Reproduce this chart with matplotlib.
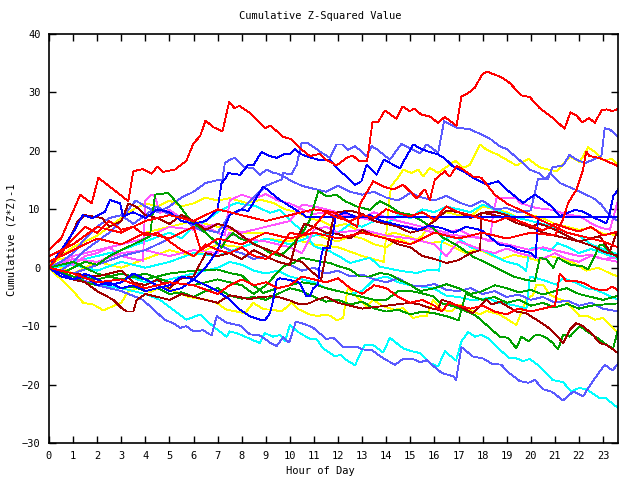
import matplotlib
matplotlib.use("Agg")
import matplotlib.pyplot as plt

# ---- data: (hour, cumulative value) pairs ----
red_top = [(0,3),(0.5,5),(1.3,12.5),(1.77,11),(2.05,15.4),(3.29,11.4),(3.5,16.5),(3.9,16.9),(4.26,16.1),(4.5,17.3),(4.74,16.4),(5.23,16.8),(5.7,18.3),(6.0,21.3),(6.27,22.5),(6.5,25.2),(6.8,24.1),(7.2,23.3),(7.48,28.4),(7.7,27.3),(7.9,27.7),(8.34,26.5),(8.96,23.9),(9.2,24.3),(9.72,22.4),(10.07,22.0),(10.4,20.5),(10.83,19.1),(11.24,19.5),(11.5,18.5),(11.94,17.5),(12.35,18.8),(12.6,19.2),(12.9,18.2),(13.2,18.2),(13.43,24.9),(13.66,24.9),(13.94,26.9),(14.43,25.5),(14.67,27.6),(14.98,26.8),(15.16,27.2),(15.46,26.2),(15.8,25.9),(16.15,24.8),(16.43,25.8),(16.92,24.3),(17.12,29.3),(17.4,29.9),(17.68,30.8),(17.95,32.9),(18.16,33.6),(18.78,32.6),(19.13,31.6),(19.6,29.5),(19.96,29.2),(20.37,27.3),(20.92,25.6),(21.4,23.8),(21.65,26.6),(21.9,26.0),(22.14,24.9),(22.42,25.6),(22.66,24.8),(22.93,26.9),(23.14,27.1),(23.39,26.8),(23.62,27.2)]

lb_bottom = [(0,0),(0.5,-1),(1,-1.5),(2,-3),(3,-4),(3.9,-5.5),(4.8,-8.9),(5.16,-9.5),(5.44,-10.3),(5.7,-10),(6,-10.9),(6.4,-10.7),(6.75,-11.6),(6.96,-8.3),(7.37,-9.4),(7.93,-9.9),(8.34,-11.4),(8.75,-11.6),(9.17,-12.8),(9.45,-13.4),(9.72,-11.9),(9.97,-12.8),(10.25,-9.2),(10.7,-9.8),(10.97,-10.3),(11.52,-12.2),(11.8,-12.0),(12.2,-13.5),(12.77,-13.5),(13.04,-14.0),(13.4,-14.1),(13.87,-15.5),(14.36,-16.6),(14.7,-15.6),(15.1,-15.6),(15.4,-16.2),(15.67,-15.8),(15.95,-16.8),(16.3,-18.0),(16.78,-18.6),(16.9,-19.2),(17.12,-13.6),(17.6,-15.2),(18.0,-15.5),(18.37,-16.4),(18.78,-16.6),(19.0,-17.7),(19.54,-19.4),(19.9,-19.7),(20.17,-19.2),(20.5,-20.8),(20.86,-21.2),(21.34,-22.7),(21.76,-21.2),(22.17,-22.0),(22.58,-19.4),(23.07,-16.6),(23.39,-17.6),(23.62,-16.4)]

cyan_bottom = [(0,0),(1,-1.5),(2,-3),(3,-3.5),(4,-4.5),(4.6,-5.5),(5.71,-8.9),(6.27,-8.0),(6.8,-10.0),(7.37,-11.8),(7.5,-10.9),(7.8,-11.2),(8.75,-12.9),(8.96,-11.2),(9.3,-11.8),(9.6,-11.5),(9.8,-12.6),(10.0,-9.8),(10.3,-10.9),(10.83,-12.2),(11.1,-12.2),(11.38,-13.8),(11.87,-15.2),(12.1,-14.9),(12.35,-15.8),(12.7,-16.7),(13.1,-13.2),(13.45,-13.2),(13.87,-14.5),(14.15,-12.0),(14.7,-13.8),(15.05,-14.3),(15.4,-14.6),(15.8,-16.3),(16.15,-16.9),(16.43,-14.3),(16.9,-15.9),(17.12,-12.6),(17.4,-11.0),(17.68,-11.8),(17.95,-11.5),(18.23,-12.1),(18.7,-14.0),(19.13,-15.5),(19.4,-15.5),(19.68,-16.0),(19.96,-15.6),(20.37,-16.9),(20.9,-19.2),(21.34,-19.6),(21.68,-21.2),(22.0,-20.6),(22.3,-20.8),(22.86,-22.3),(23.1,-22.3),(23.62,-24.0)]

yellow_low = [(0,0),(0.5,-2),(1,-4),(1.42,-6.0),(1.84,-6.3),(2.25,-7.3),(2.6,-6.7),(3.0,-6.0),(3.3,-4),(3.7,-3.5),(4.2,-4.2),(4.7,-3.2),(5.2,-4),(5.8,-5),(6.55,-5.5),(6.96,-6.0),(7.37,-7.2),(7.79,-7.5),(8.13,-7.8),(8.48,-6.0),(8.89,-7.1),(9.31,-7.2),(9.65,-7.5),(10.07,-6.0),(10.35,-7.1),(10.83,-8.0),(11.18,-8.3),(11.38,-8.0),(11.66,-8.2),(11.94,-9.0),(12.21,-8.6),(12.4,-3.5),(12.9,-5.5),(13.18,-6.6),(13.45,-5.5),(13.87,-6.6),(14.36,-7.2),(14.7,-6.9),(15.12,-8.6),(15.4,-8.3),(15.67,-8.3),(15.95,-5.5),(16.3,-7.2),(16.7,-7.5),(17.05,-6.3),(17.47,-7.2),(17.88,-8.0),(18.16,-7.4),(18.71,-8.0),(19.4,-9.8),(19.82,-5.5),(20.1,-4.6),(20.23,-2.9),(20.5,-2.9),(20.8,-4.6),(21.06,-5.2),(21.48,-5.8),(22.03,-8.3),(22.31,-8.2),(22.66,-8.9),(23.0,-8.6),(23.62,-11.2)]

yellow_hi = [(0,1),(1,2),(2,3),(3,4),(4,6),(5,7),(6,8),(7,7),(8,6),(9,6),(10,5),(11,4),(12,3.5),(13,2),(13.9,1),(14.1,10.5),(14.2,14),(14.43,15.1),(14.7,16.8),(15.05,16.2),(15.33,16.8),(15.53,15.6),(15.81,17.1),(16.15,16.2),(16.86,18.3),(17.2,17.1),(17.47,17.6),(17.89,21.1),(18.16,20.2),(18.65,19.3),(19.4,17.5),(19.9,18.6),(20.4,17.1),(21.07,16.5),(21.63,19.0),(22.03,18.1),(22.38,20.6),(22.73,19.6),(23.0,18.4),(23.37,18.6),(23.62,17.5)]

yellow_mid = [(0,0),(0.5,2),(1,3.5),(1.5,4.5),(2,5.5),(2.5,7),(3,8.5),(3.5,10),(4,11),(4.5,10.5),(5,11.5),(5.5,10.5),(6,11),(6.5,12),(7,11.5),(7.5,11.9),(8.2,11.1),(8.8,11.6),(9.3,11.1),(9.8,10),(10.3,9.5),(10.8,8.5),(11.3,8),(11.8,7),(12.3,7.5),(12.8,6.5),(13.3,6),(13.8,5.2),(14.3,6),(14.8,5.5),(15.3,4.8),(15.8,4.2),(16.3,4.5),(16.8,3.5),(17.3,2.5),(17.8,3.2),(18.3,2.2),(18.8,1.5),(19.3,2.2),(19.8,1.8),(20.3,1.2),(20.8,2),(21.3,1.5),(21.8,0.8),(22.3,-0.5),(22.8,0),(23.3,-1),(23.62,-1.5)]

yellow_4 = [(0,1),(1,-1),(2,1),(3,0),(4,1.5),(5,3),(6,2),(7,4),(8,3.5),(9,5),(10,4.5),(11,6),(11.5,5),(12,4.5),(12.5,5.5),(13,5),(13.5,4),(14,3.5),(14.5,5),(15,4),(15.5,5.5),(16,8.5),(16.5,9.5),(17,9),(17.5,8.8),(18,10.5),(18.5,10),(19,9.5),(19.5,8.5),(20,9),(20.5,8.5),(21,7.5),(21.5,7),(22,6.5),(22.5,6.8),(23,5.8),(23.62,5.6)]

red_2 = [(0,1),(1,3),(2,5),(3,4),(4,6),(5,5),(6,7),(6.3,3),(7,5),(8,4),(9,6),(10,5),(11,6),(12,5),(13,6),(14,5),(15,4),(16,6),(17,5),(18,6),(19,5),(20,6),(21,5.5),(21.33,8.2),(21.55,11.1),(21.9,13.4),(22.17,16.8),(22.3,19.9),(22.44,19.1),(22.85,18.8),(23.12,18.3),(23.62,17.4)]

red_3 = [(0,2),(1,4),(2,7),(3,6),(4,8),(5,9),(6,8),(7,10),(8,9),(9,8),(10,9),(11,10),(11.8,9.5),(12.4,8),(12.8,7),(12.9,10.8),(13.46,14.8),(13.87,13.9),(14.29,13.4),(14.7,14.2),(15.05,12.8),(15.26,11.9),(15.6,13.4),(15.81,11.6),(16.02,15.1),(16.43,16.5),(16.64,15.6),(16.92,17.4),(17.19,16.8),(17.6,15.6),(17.95,15.4),(18.5,12.5),(19,11),(19.5,10),(20,9),(20.5,8),(21,7),(21.5,6),(22,5.5),(22.5,5),(23,4.5),(23.62,3.5)]

red_4 = [(0,0),(1,5),(1.5,7),(2,6),(2.5,8),(3,6.5),(3.5,7),(4,5.5),(4.5,6),(5,4.5),(5.5,3),(6,2),(6.5,4),(7,3),(7.5,2.5),(8,3.5),(8.5,2),(9,1.5),(9.5,3),(10,6),(10.5,5.5),(11,7),(11.5,9.5),(12,8.5),(12.5,8),(13,9),(13.5,8.5),(14,10),(14.5,9.3),(15,8.8),(15.5,9.5),(16,8.2),(16.5,10.5),(17,9.5),(17.5,9),(18,8.3),(18.5,7.8),(19,8.6),(19.5,8),(20,7.2),(20.5,6.4),(21,7.5),(21.5,6.8),(22,6.2),(22.5,7),(23,5.5),(23.62,6.2)]

red_5 = [(0,0),(1,-1),(2,-2.5),(3,-2),(4,-3.5),(5,-2.5),(6,-3),(7,-4.5),(7.5,-3),(8,-2),(8.5,-3),(9,-2.5),(9.5,-3.5),(10,-3),(10.5,-1.5),(11,-2),(11.5,-2.5),(12,-1.8),(12.5,-3.5),(13,-4.5),(13.5,-3),(14,-3.5),(14.5,-5),(15,-6),(15.5,-5.5),(16,-6.5),(16.3,-7.5),(16.6,-6),(17,-6.5),(17.5,-7),(18,-6.5),(18.5,-7.5),(19,-8),(19.5,-7),(20,-7.5),(20.5,-7),(21,-6.5),(21.2,-1),(21.48,-2.3),(21.89,-2.3),(22.17,-2.6),(22.59,-3.5),(22.86,-3.8),(23.14,-3.8),(23.4,-3.2),(23.62,-4.0)]

darkred_1 = [(0,0),(0.5,-1),(1,-2),(1.5,-2.5),(2,-4),(2.67,-5.5),(3.01,-6.9),(3.22,-7.5),(3.5,-7.5),(3.64,-5.5),(4,-4.5),(4.5,-5),(5,-5.5),(5.5,-4.5),(6,-5),(6.5,-5.5),(7,-6),(7.5,-4.7),(8,-5.1),(8.3,-5.4),(8.75,-5),(9.2,-4.9),(9.5,-5),(10,-5.6),(10.4,-6.3),(10.8,-6.1),(11.1,-5.5),(11.5,-5),(12,-6),(13,-7),(14,-6.5),(15,-6),(15.4,-6.3),(15.81,-6.9),(16.15,-7.2),(16.3,-5.5),(16.7,-6),(17.2,-7),(17.6,-7.8),(18.16,-5.5),(18.37,-6.3),(18.71,-5.8),(19.4,-7.5),(19.82,-7.8),(20.23,-8.9),(20.65,-10.0),(21.06,-11.5),(21.34,-12.9),(21.62,-10.6),(21.89,-9.5),(22.17,-10.0),(22.58,-11.5),(22.86,-12.9),(23.14,-13.2),(23.62,-14.6)]

darkred_2 = [(0,1),(0.5,2),(1.2,8),(1.5,9),(2.2,8.5),(2.5,7),(3,8),(3.3,11),(3.6,10.5),(4,9),(4.5,8.5),(5,7.5),(5.5,9),(6,8),(6.5,6.5),(7,7.5),(7.5,7),(8,5.5),(8.5,4),(9,3.2),(9.5,2.5),(10,1.5),(10.5,1),(11,-1),(11.3,-2),(11.5,2.5),(11.8,8.5),(12,9.5),(12.5,9.8),(13,9.2),(13.5,8),(14,7.5),(14.5,7),(15,6),(15.5,6.5),(16,8),(16.5,9.8),(17,9.5),(17.5,8.5),(18,9.4),(18.5,9),(19,8.5),(19.5,7.5),(20,7),(20.5,6),(21,5.5),(21.5,5),(22,4.5),(22.5,5),(22.86,5.4),(23.28,2.8),(23.56,5.9),(23.62,5.5)]

darkred_3 = [(0,0),(1,-1),(2,-1.5),(3,-0.5),(3.5,-2.5),(4,-3),(4.5,-2),(5,-3.5),(5.5,-1.8),(6,-1.5),(6.5,2.5),(7,2),(7.5,2.5),(8,1.5),(8.5,3),(9,2),(9.5,1),(10,0.5),(10.3,5),(10.6,7.5),(11,7),(11.5,6),(12,5.8),(12.5,5),(13,6.5),(13.5,5.5),(14,5),(14.5,4),(15,3.5),(15.5,2),(16,1.5),(16.5,0.8),(17,1.3),(17.5,2.5),(17.9,3.0),(17.95,9.4),(18.5,9.6),(19,9.0),(19.5,8),(20,6.8),(20.3,7.6),(20.6,7.2),(21,6.5),(21.5,5.5),(22,4.5),(22.5,3.8),(23,2.8),(23.62,2)]

green_a = [(0,0),(0.5,-1),(1,0),(1.5,1),(2,0.5),(2.5,2),(3,3),(3.5,4),(4.19,5.4),(4.4,12.5),(4.95,12.8),(5.05,12.3),(5.44,10.5),(5.85,8.2),(6.27,6.8),(6.82,4.8),(7.16,3.4),(7.37,4.8),(7.65,5.9),(7.93,5.0),(8.3,4.5),(8.8,3.5),(9.2,2.5),(9.6,2),(10,3.5),(10.48,5.7),(10.83,8.2),(11.18,13.1),(11.53,12.2),(11.94,12.5),(12.28,11.4),(12.77,10.5),(13.32,9.9),(13.73,11.4),(14.15,10.5),(14.56,9.4),(14.98,9.1),(15.4,8.2),(15.95,6.8),(16.36,5.1),(16.92,3.9),(17.6,1.9),(18.16,0.8),(18.71,-0.3),(19.27,-1.5),(19.82,-2.1),(20.17,-2.3),(20.37,1.7),(20.65,1.4),(20.93,0),(21.13,1.7),(21.34,1.2),(21.69,0.5),(22.17,0.2),(22.38,-0.3),(22.59,1.4),(22.86,3.9),(23.0,3.9),(23.28,2.8),(23.62,1.7)]

green_b = [(0,0),(1,-1.5),(2,-2),(3,-1),(4,-2),(5,-1),(6,-0.5),(7,-0.3),(7.5,-0.9),(8.0,-1.3),(8.3,-2.5),(8.9,-4.3),(9.5,-3.5),(10,-3),(10.5,-2.5),(11,-2.8),(11.5,-3.5),(12,-4),(12.5,-4.5),(13,-5),(13.5,-5.5),(14,-5.5),(14.5,-4),(15,-4),(15.4,-4.3),(15.95,-4.9),(16.23,-6.0),(16.78,-6.6),(17.2,-7.2),(17.75,-8.3),(18.3,-10.3),(18.71,-11.8),(19.06,-12.0),(19.4,-13.8),(19.61,-11.8),(19.9,-12.6),(20.17,-11.6),(20.37,-11.5),(20.65,-12.0),(20.92,-12.9),(21.13,-14.0),(21.34,-11.5),(21.62,-11.8),(22.03,-10.0),(22.45,-11.2),(22.86,-12.3),(23.14,-13.2),(23.42,-13.8),(23.62,-10.6)]

green_c = [(0,0),(1,1),(2,-1),(3,-2),(4,-1),(5,-2.5),(6,-3),(7,-2),(8,-3),(8.5,-4.5),(9,-3),(9.72,0.2),(10.14,0.8),(10.48,1.7),(10.83,1.4),(11.24,1.1),(11.66,0.8),(12.07,0.2),(12.49,-0.3),(12.9,-1.5),(13.32,-1.5),(13.73,-0.9),(14.15,-1.2),(14.56,-2.1),(14.98,-2.9),(15.4,-4.0),(16,-3.5),(16.5,-2.8),(17,-3.5),(17.5,-4.5),(18,-4),(18.5,-3),(19,-3.5),(19.5,-4.2),(20,-3.8),(20.5,-4.6),(21,-4),(21.5,-3.5),(22,-4.5),(22.5,-5),(23,-5.5),(23.62,-4.8)]

green_d = [(0,0),(0.5,-0.8),(1,-1.5),(1.5,-2.5),(2,-3),(2.5,-2.5),(3,-3.5),(3.5,-3.2),(4,-4),(4.5,-3.5),(5,-4.5),(5.5,-4.2),(6,-5),(6.5,-4),(7,-3.5),(7.5,-4.8),(8,-5.3),(8.5,-5),(9,-5.5),(9.5,-4.5),(10,-3.5),(10.5,-4),(11,-5),(11.5,-5.8),(12,-5.5),(12.5,-6.3),(13,-5.8),(13.5,-7),(14,-7.5),(14.5,-7.2),(15,-8),(15.5,-7.5),(16,-7.8),(16.5,-8.3),(17,-9),(17.3,-4.5),(17.5,-4.8),(18,-5.5),(18.5,-5),(19,-6),(19.5,-5.5),(20,-6.5),(20.5,-6),(21,-6.8),(21.5,-6.2),(22,-7),(22.5,-6.5),(23,-6.3),(23.62,-6.1)]

cyan_mid1 = [(0,0),(1,-1),(2,-2),(3,-1),(4,-2.5),(5,-2),(6,-1),(7,0),(7.5,1),(8,0.5),(8.5,-0.5),(9,-1),(9.5,-0.5),(10,-1.5),(10.5,-2),(11,-2.5),(11.5,-3.5),(12,-4),(12.5,-4.5),(13,-4),(13.5,-2),(14,-1.5),(14.5,-2.5),(15,-3),(15.4,-3.2),(15.95,-3.5),(16.5,-4.8),(17,-5),(17.6,-5.6),(18.2,-5.2),(18.7,-6),(19.4,-6.5),(19.82,-7),(19.96,-1.5),(20.5,-2.1),(21.06,-2.9),(21.34,-1.8),(21.89,-2.6),(22.31,-3.5),(22.73,-3.8),(23.14,-4.6),(23.62,-5.5)]

cyan_mid2 = [(0,0),(1,1),(2,2),(3,3),(4,4.5),(5,6),(5.5,5),(6,7),(6.5,8),(7,9.5),(7.51,10.6),(7.79,11.1),(8.13,10.8),(8.6,10.5),(9.17,9.4),(9.58,9.9),(9.86,8.8),(10.28,7.1),(10.55,6.3),(11.0,3.7),(11.38,3.1),(11.66,2.8),(12.07,1.9),(12.49,0.8),(13.04,1.4),(13.32,1.7),(13.73,0.2),(14.29,-0.3),(14.7,-0.6),(15.26,-0.9),(15.81,-0.3),(16.2,-0.5),(16.3,4.5),(16.6,5.3),(17,5),(17.5,3.5),(18,3),(18.5,2),(19,1),(19.5,0.5),(19.8,-0.5),(19.96,3.2),(20.2,3.5),(20.8,2.8),(21.1,4.2),(21.5,3.6),(22,2.5),(22.5,3.2),(23,2.5),(23.62,1.5)]

cyan_4 = [(0,0),(1,0.5),(2,-0.5),(3,1),(4,0),(5,1),(6,2.5),(7,2),(8,3.5),(9,5),(10,4),(11,5.5),(12,6),(12.5,7.5),(13,7),(13.5,8),(14,7.5),(14.5,9),(15,8.5),(15.5,10),(16,9.5),(16.5,10.5),(17,10),(17.5,9.5),(18,10.8),(18.5,10),(19,9.2),(19.5,8.5),(20,8),(20.5,7.5),(21,6.8),(21.5,6),(22,5.5),(22.5,4),(23,3.2),(23.62,2.3)]

mag_1 = [(0,0),(0.5,1),(1,0.5),(1.5,2),(2,2.5),(2.5,3.5),(3,2),(3.5,1.5),(3.9,1.2),(4.0,11.5),(4.26,12.5),(4.4,12.2),(4.6,9.4),(5.0,9.9),(5.5,8.5),(6,8),(6.5,7),(7,6),(7.3,5.5),(7.5,11.5),(8,12.5),(8.5,11.8),(9,12.6),(9.5,11.5),(10,11),(10.5,10),(11,9.2),(11.5,9.5),(12,9),(12.5,8.8),(13,8.5),(13.5,9.5),(14,8.6),(14.5,8),(15,7.5),(15.5,7),(16,6.5),(16.5,6),(17,6.5),(17.5,5.5),(18,5),(18.5,4.5),(19,4),(19.5,3.5),(20,3),(20.5,3.5),(21,3),(21.5,2.5),(22,2),(22.5,2.2),(23,1.5),(23.62,1.0)]

mag_2 = [(0,0),(1,2),(2,3),(3,4),(4,5),(5,7),(6,6.5),(7,7.5),(8,6),(9,7),(10,8),(10.5,10.8),(11,10.5),(12,9.5),(13,8.5),(14,7.5),(15,7),(16,6),(17,5.5),(18,5),(18.3,4.5),(18.44,9.4),(18.58,11.9),(19.4,11.9),(19.54,11.1),(20.24,10.2),(20.93,9.9),(21.48,9.1),(22.03,8.8),(22.59,7.4),(22.93,6.8),(23.28,6.5),(23.48,9.4),(23.62,11.6)]

mag_3 = [(0,0),(1,1.5),(2,1),(3,2.5),(4,3),(5,2),(6,3),(7,2.5),(7.5,6),(8,5),(9,4.5),(10,3.5),(10.5,2.5),(11,6.5),(11.5,7),(12,6),(13,6.5),(14,5.5),(15,5),(15.5,4.5),(16,4),(16.5,2),(17,4.5),(17.5,3.8),(18,3),(18.5,2.5),(19,3.3),(19.5,2.5),(20,2),(20.5,1.5),(21,2.5),(21.5,1.5),(22,1),(22.5,2),(23,1.5),(23.62,1.8)]

blue_1 = [(0,0),(0.5,3),(1.0,6),(1.4,9),(1.8,8.5),(2.32,9.6),(2.53,11.6),(2.95,11.0),(3.08,8.8),(3.5,9.5),(4.0,8.5),(4.5,10),(5,9.5),(5.5,8),(6,7.5),(6.5,8),(7.0,10),(7.16,14.5),(7.3,15.1),(7.44,16.2),(7.93,15.9),(8.27,17.6),(8.48,17.5),(8.82,19.8),(9.1,19.2),(9.45,18.8),(9.79,19.5),(10.0,19.4),(10.2,20.3),(10.48,19.4),(10.83,18.9),(11.24,18.4),(11.66,18.5),(12.01,16.8),(12.35,15.6),(12.7,14.2),(12.97,14.8),(13.18,17.6),(13.6,15.9),(13.9,18.5),(14.3,17.6),(14.56,17.0),(15.12,21.1),(15.46,20.3),(15.8,19.8),(16.15,19.4),(16.43,18.7),(16.78,17.3),(17.2,16.5),(17.6,15.4),(17.9,14.8),(18.16,14.2),(18.65,14.8),(18.99,13.4),(19.68,11.1),(20.17,12.5),(20.5,11.6),(20.86,10.5),(21.2,8.8),(21.83,9.9),(22.17,9.6),(22.66,8.5),(23.14,7.6),(23.28,9.4),(23.42,12.2),(23.62,13.4)]

blue_2 = [(0,0),(0.5,-1.5),(1,-2),(1.5,-1.5),(2,-3),(2.5,-2.5),(3,-3.5),(3.5,-3),(4,-4),(4.5,-3.5),(5,-3),(5.5,-1.5),(6,-2),(6.5,-3),(7,-4),(7.51,-5.5),(7.93,-7.2),(8.34,-8.3),(8.76,-8.9),(8.96,-9.0),(9.17,-7.8),(9.31,-5.5),(9.45,-2.1),(9.58,-1.8),(10.0,-2.1),(10.41,-2.6),(10.69,-4.9),(10.83,-4.9),(10.97,-3.5),(11.17,-2.9),(11.24,0.8),(11.38,3.4),(11.66,3.4),(11.8,6.2),(11.9,8.8),(12.3,9.5),(12.8,8.5),(13.3,9),(13.8,8),(14.3,7.5),(14.8,7),(15.3,6.5),(15.8,7.2),(16.3,6.8),(16.8,6),(17.3,7),(17.88,6.5),(18.02,6.2),(18.71,3.9),(19.13,3.7),(19.4,3.1),(20.03,2.5),(20.2,1.7),(20.3,8.7)]

blue_flat = [(0,0),(0.5,-1),(1,-2),(1.5,-1),(2,-2),(2.5,-3),(3,-2.5),(3.5,-1),(4,-2),(4.5,-3),(5,-4),(5.5,-3.5),(6,-2),(6.5,0),(7,3),(7.2,6),(7.51,9.1),(7.99,10.0),(8.27,9.7),(8.82,13.4),(8.9,13.9),(9.58,11.6),(10.14,10.2),(10.55,9.1),(10.69,8.7),(23.62,8.7)]

lb_1 = [(0,0),(0.5,-0.5),(1,1),(1.5,3),(2,4.5),(2.5,6),(3,8),(3.3,10),(3.6,11.5),(4,10.5),(4.5,9.5),(5,10.5),(5.5,12),(6,13),(6.5,14.5),(7,15),(7.2,15.1),(7.3,17.9),(7.51,18.5),(7.72,18.8),(8.06,17.3),(8.48,17.0),(8.76,15.9),(9.03,16.8),(9.31,16.2),(9.52,16.1),(10,15),(10.5,14),(11,13.5),(11.5,13),(12,14),(12.5,13),(13,12.5),(13.5,13),(14,12),(14.5,11.5),(15,12.8),(15.5,12),(16,11.5),(16.5,12.3),(17,11.2),(17.5,10.5),(18,11.5),(18.5,10),(19,10.2),(19.5,9.5),(20,9.8),(20.3,15.2),(20.7,15.1),(20.9,17.2),(21.34,17.5),(21.6,19.3),(21.9,18.5),(22.24,17.9),(22.6,18.5),(22.93,19.1),(23.07,23.9),(23.3,23.6),(23.62,22.4)]

lb_2 = [(0,0),(1,-1),(2,0.5),(3,2),(4,3),(5,5),(6,7),(7,6),(7.5,9),(8,10),(8.5,12),(9.0,14),(9.65,15.1),(9.72,16.2),(10.07,16.0),(10.28,17.6),(10.48,21.3),(10.76,21.3),(11.24,19.9),(11.66,18.8),(11.94,21.1),(12.2,21.1),(12.4,20.2),(12.7,20.8),(12.97,19.9),(13.18,19.1),(13.39,20.8),(13.6,20.3),(14.15,18.5),(14.63,21.2),(15.05,20.3),(15.4,19.6),(15.67,21.1),(15.9,20.5),(16.15,19.6),(16.4,25.1),(16.9,24.0),(17.47,23.7),(17.95,22.8),(18.37,21.9),(18.7,20.8),(19.0,20.3),(19.54,18.4),(19.96,16.8),(20.37,16.1),(20.6,15.1),(20.8,16.2),(21.2,14.5),(22.0,13.1),(22.6,11.9),(22.93,10.8),(23.14,9.6),(23.4,8.5),(23.62,8)]

lb_3 = [(0,0),(0.5,1),(1,2.5),(1.5,5),(2,7),(2.5,8.5),(3,9),(3.5,7.5),(4,9),(4.5,10.5),(5,9),(5.5,8.8),(6,7),(6.5,6),(7,4),(7.5,3),(8,2.5),(8.5,1.5),(9,2),(9.5,1),(10,0.5),(10.5,-0.5),(11,0),(11.5,-1),(12,-0.5),(12.5,-1.5),(13,-1.2),(13.5,-2),(14,-2.5),(14.5,-1.8),(15,-3),(15.5,-3.2),(16,-2.8),(16.5,-3.8),(17,-4),(17.5,-3.5),(18,-4.5),(18.5,-4),(19,-5),(19.5,-4.6),(20,-5.5),(20.5,-5),(21,-6),(21.5,-5.6),(22,-6.5),(22.5,-6),(23,-7),(23.62,-7.5)]

# ---- colours ----
RED = "#ff0000"; DRED = "#a00000"; BLUE = "#0000ff"; LBLUE = "#5a5aff"
GREEN = "#00a000"; YELLOW = "#ffff00"; MAG = "#ff55ff"; CYAN = "#00ffff"

series = [
    (yellow_low, YELLOW), (yellow_hi, YELLOW), (yellow_mid, YELLOW), (yellow_4, YELLOW),
    (cyan_bottom, CYAN), (cyan_mid1, CYAN), (cyan_mid2, CYAN), (cyan_4, CYAN),
    (mag_1, MAG), (mag_2, MAG), (mag_3, MAG),
    (lb_bottom, LBLUE), (lb_1, LBLUE), (lb_2, LBLUE), (lb_3, LBLUE),
    (green_a, GREEN), (green_b, GREEN), (green_c, GREEN), (green_d, GREEN),
    (darkred_1, DRED), (darkred_2, DRED), (darkred_3, DRED),
    (blue_1, BLUE), (blue_2, BLUE), (blue_flat, BLUE),
    (red_2, RED), (red_3, RED), (red_4, RED), (red_5, RED), (red_top, RED),
]

fig = plt.figure(figsize=(6.4, 4.8), dpi=100)
ax = fig.add_axes([49/640, 1-443/480, (618-49)/640, (443-34)/480])

for pts, col in series:
    xs = [p[0] for p in pts]
    ys = [p[1] for p in pts]
    ax.plot(xs, ys, color=col, lw=0.6, antialiased=False)

font = "DejaVu Sans Mono"
ax.set_xlim(0, 23.62)
ax.set_ylim(-30, 40)
ax.set_xticks(range(0, 24))
ax.set_yticks(range(-30, 41, 10))
ax.tick_params(direction="in", top=True, right=True, length=5, width=1,
               labelsize=7.5, pad=6)
for lab in ax.get_xticklabels() + ax.get_yticklabels():
    lab.set_fontfamily(font)
for s in ax.spines.values():
    s.set_linewidth(1.2)

fig.text(0.5, 1-16/480, "Cumulative Z-Squared Value", ha="center", va="center",
         fontsize=7.5, family=font)
fig.text(0.5, 1-471/480, "Hour of Day", ha="center", va="center",
         fontsize=7.5, family=font)
fig.text(12/640, 0.5, "Cumulative (Z*Z)-1", ha="center", va="center",
         rotation=90, fontsize=7.5, family=font)

fig.savefig("out.png", dpi=100)
